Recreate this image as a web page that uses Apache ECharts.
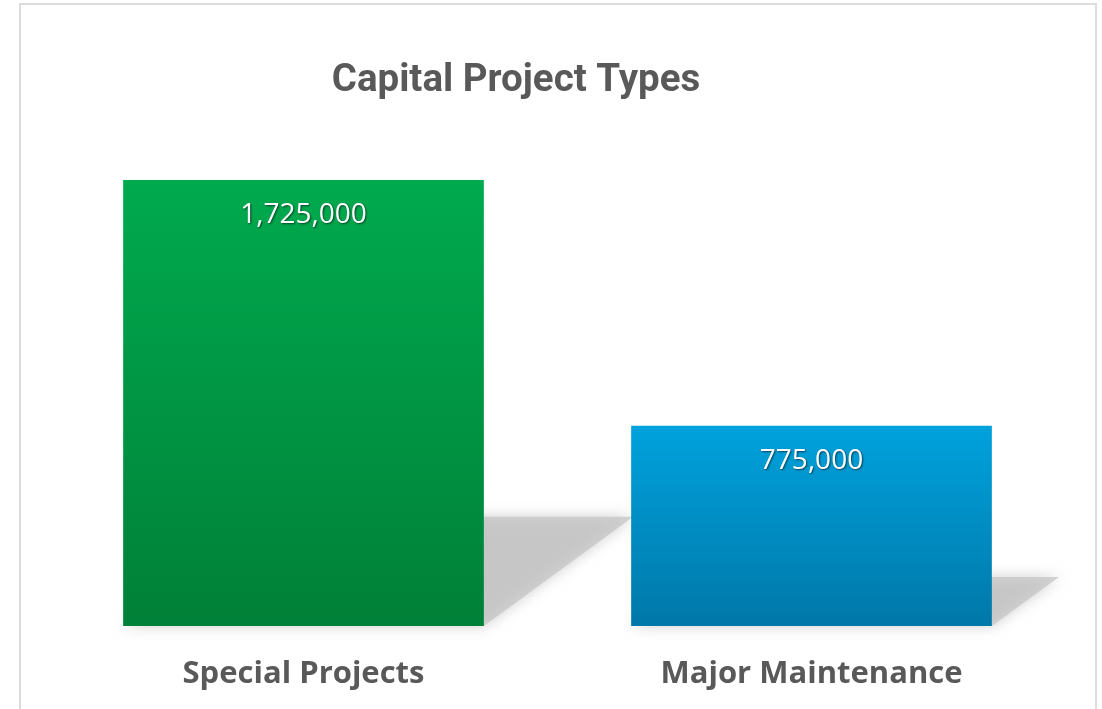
<!DOCTYPE html>
<html>
<head>
<meta charset="utf-8">
<style>
  html, body { margin: 0; padding: 0; background: #fff; overflow: hidden; }
  .frame { position: absolute; left: 19px; top: 3px; width: 1074px; height: 730px; border: 2px solid #dcdcdc; }
  #main { position: absolute; left: 0; top: 0; width: 1102px; height: 709px; }
</style>
<script src="https://cdn.jsdelivr.net/npm/echarts@6/dist/echarts.min.js"></script>
</head>
<body>
<div class="frame"></div>
<div id="main"></div>
<script>
var categories = ["Special Projects", "Major Maintenance"];
var values = [1725000, 775000];
var titleText = "Capital Project Types";

var colorStops = [
  ["#00AA4E", "#008038"],
  ["#00A2DD", "#0078A8"]
];

var myChart = echarts.init(document.getElementById("main"));

// floor shadow, skewed to the right of each bar
function renderShadow(params, api) {
  var idx = api.value(0);
  var base = api.coord([idx, 0]);
  var top = api.coord([idx, api.value(1)]);
  var band = api.size([1, 0])[0];
  var w = band * 0.71;
  var h = base[1] - top[1];
  var xL = base[0] - w / 2;
  var xR = base[0] + w / 2;
  var dx = h * 0.335;
  var dy = h * 0.245;
  return {
    type: "polygon",
    shape: {
      points: [
        [xL, base[1]],
        [xR, base[1]],
        [xR + dx, base[1] - dy],
        [xL + dx, base[1] - dy]
      ]
    },
    style: {
      fill: "rgba(195,195,195,0.7)",
      shadowBlur: 14,
      shadowColor: "rgba(170,170,170,0.8)"
    }
  };
}

var option = {
  backgroundColor: "transparent",
  animation: false,
  title: {
    text: titleText,
    left: 511,
    top: 57,
    textAlign: "center",
    textStyle: {
      fontFamily: "Roboto",
      fontWeight: "bold",
      fontSize: 38.5,
      color: "#595959"
    }
  },
  grid: {
    left: 49.5,
    right: 36.5,
    top: 109,
    bottom: 83
  },
  xAxis: {
    type: "category",
    data: categories,
    axisLine: { show: false },
    axisTick: { show: false },
    axisLabel: {
      margin: 33,
      fontFamily: "Open Sans",
      fontWeight: "bold",
      fontSize: 31,
      color: "#595959"
    }
  },
  yAxis: {
    type: "value",
    min: 0,
    max: 2000000,
    show: false,
    splitLine: { show: false }
  },
  series: [
    {
      type: "custom",
      z: 1,
      silent: true,
      renderItem: renderShadow,
      data: values.map(function (v, i) { return [i, v]; })
    },
    {
      type: "bar",
      z: 2,
      barWidth: "71%",
      data: values.map(function (v, i) {
        return {
          value: v,
          itemStyle: {
            color: new echarts.graphic.LinearGradient(0, 0, 0, 1, [
              { offset: 0, color: colorStops[i][0] },
              { offset: 1, color: colorStops[i][1] }
            ])
          }
        };
      }),
      label: {
        show: true,
        position: "insideTop",
        distance: 21,
        fontFamily: "Open Sans",
        fontSize: 28,
        color: "#fff",
        textShadowColor: "rgba(0,0,0,0.6)",
        textShadowBlur: 2,
        textShadowOffsetX: 1,
        textShadowOffsetY: 1,
        formatter: function (p) {
          return p.value.toLocaleString("en-US");
        }
      }
    }
  ]
};

myChart.setOption(option);
window.addEventListener("resize", function () {
  myChart.resize();
});
</script>
</body>
</html>
